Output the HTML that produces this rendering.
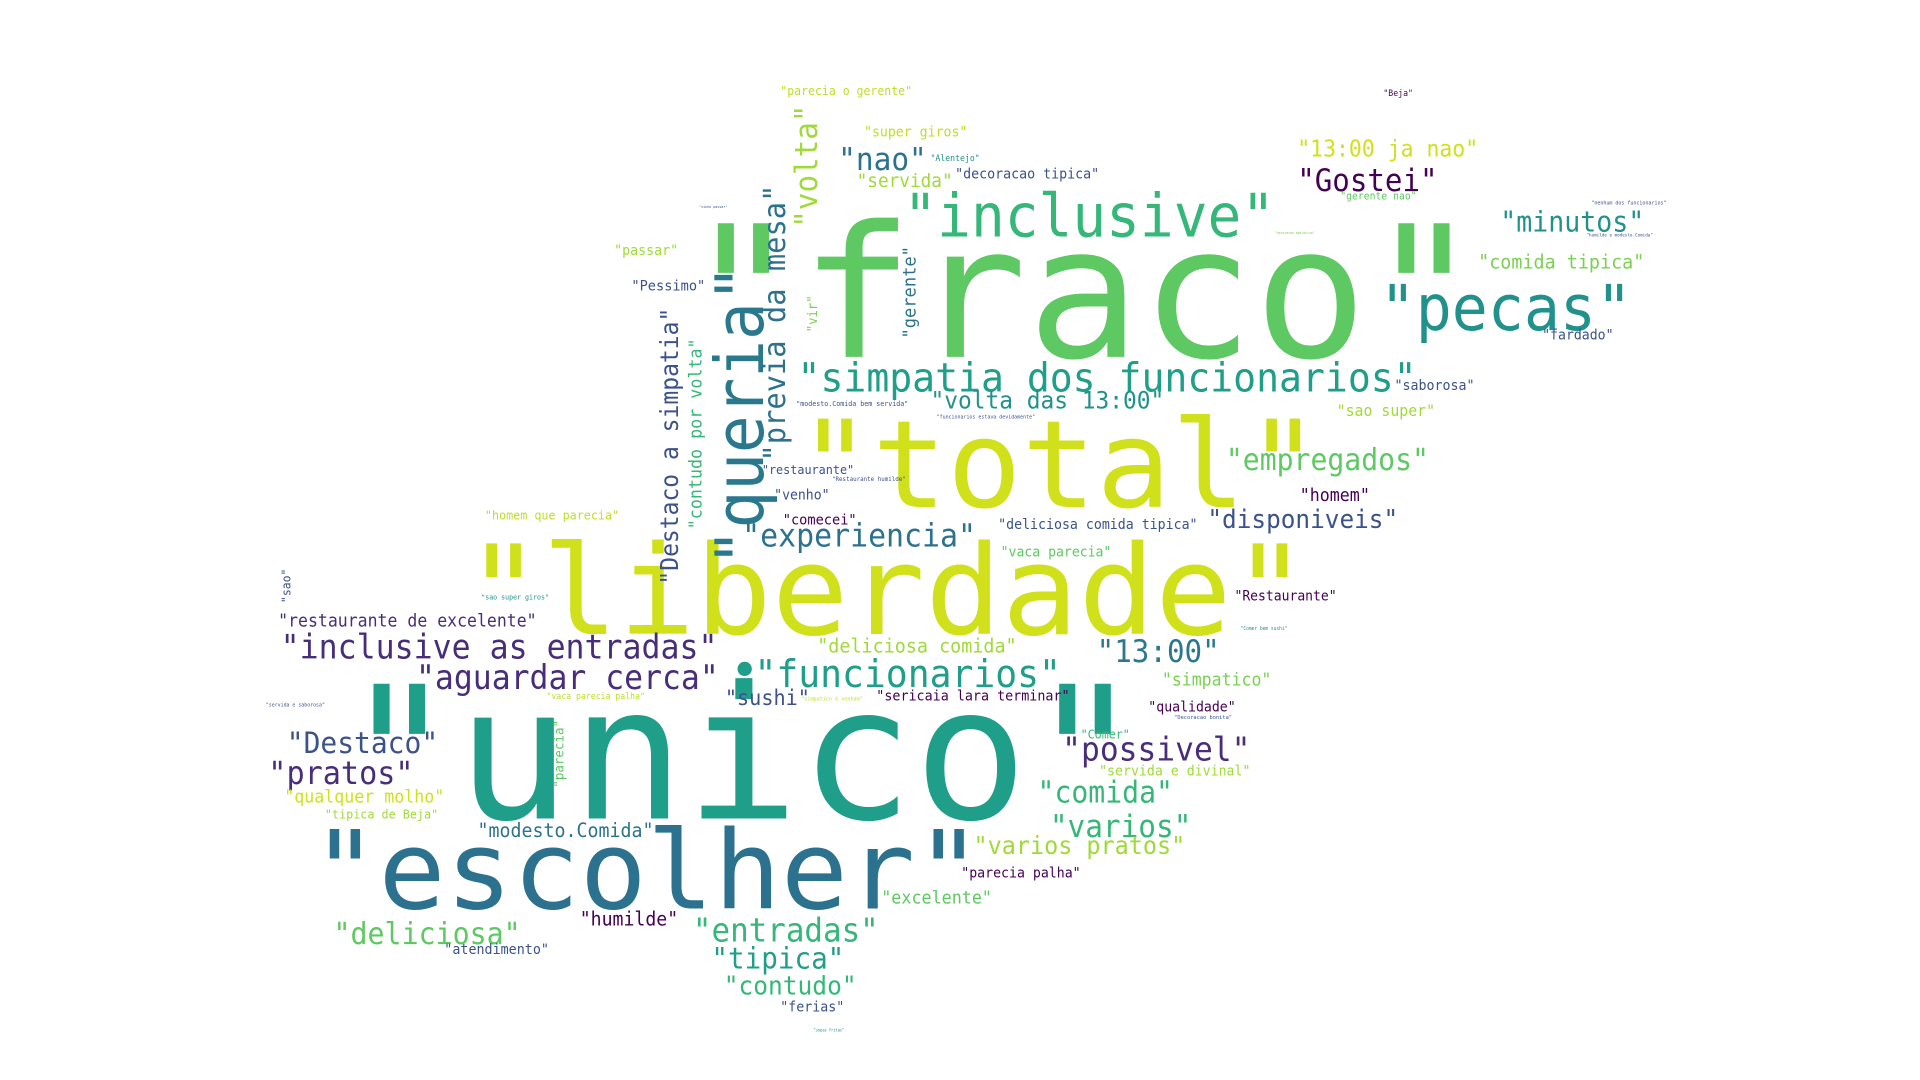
<!DOCTYPE html>
<html><head><meta charset="utf-8"><title>Word cloud</title>
<style>
html,body{margin:0;padding:0;background:#fff;}
svg{display:block;}
text{font-family:"DejaVu Sans Mono","Liberation Mono",monospace;}
</style></head>
<body>
<svg id="cloud" width="1920" height="1080" viewBox="0 0 1560 877.5" preserveAspectRatio="none" xmlns="http://www.w3.org/2000/svg">
<rect width="1560" height="877.5" fill="#fff"/>
</svg>
<script>
const words = ['"fraco"','"unico"','"liberdade"','"total"','"escolher"','"queria"','"inclusive"','"pecas"','"simpatia dos funcionarios"','"volta das 13:00"','"previa da mesa"','"volta"','"Destaco a simpatia"','"contudo por volta"','"vir"','"gerente"','"nao"','"servida"','"decoracao tipica"','"Alentejo"','"super giros"','"parecia o gerente"','"Beja"','"13:00 ja nao"','"Gostei"','"gerente nao"','"minutos"','"comida tipica"','"fardado"','"saborosa"','"sao super"','"empregados"','"homem"','"disponiveis"','"Restaurante"','"deliciosa comida tipica"','"vaca parecia"','"experiencia"','"comecei"','"venho"','"restaurante"','"homem que parecia"','"sao"','"restaurante de excelente"','"inclusive as entradas"','"aguardar cerca"','•','"funcionarios"','"deliciosa comida"','"13:00"','"simpatico"','"sushi"','"sericaia lara terminar"','"qualidade"','"Comer"','"servida e divinal"','"possivel"','"comida"','"varios"','"varios pratos"','"parecia palha"','"excelente"','"Destaco"','"pratos"','"qualquer molho"','"tipica de Beja"','"parecia"','"modesto.Comida"','"humilde"','"deliciosa"','"atendimento"','"entradas"','"tipica"','"contudo"','"ferias"','"passar"','"Pessimo"','"modesto.Comida bem servida"','"funcionarios estava devidamente"','"Restaurante humilde"','"sao super giros"','"vaca parecia palha"','"servida e saborosa"','"Comer bem sushi"','"humilde e modesto.Comida"','"nenhum dos funcionarios"','"vinho passar"','"decoracao apelativa"','"simpatico e venham"','"Decoracao bonita"','"sopas fritas"'];
const xs = [558,278,378,648,253,620,734,1121,648,756,638,664,551,570,664,744,681,696,776,756,702,634,1124,1054,1054,1089,1219,1201,1253,1133,1086,996,1056,981,1003,811,813,603,636,629,619,394,236,226,228,338,593,613,664,891,944,589,712,933,878,893,863,843,853,791,781,716,233,218,231,264,458,388,471,271,361,563,578,588,634,499,513,647,761,676,391,444,216,1008,1289,1293,568,1036,651,954,661];
const ys = [290,665,515,412,738,460,192,268,318,332,375,185,475,430,270,275,138,152,145,131,111,77,78,127,155,162,188,218,276,317,338,382,407,429,488,430,452,444,426,406,385,422,490,509,535,560,558,558,530,538,557,573,569,578,600,630,618,652,680,694,713,734,612,637,652,665,640,680,752,767,775,765,787,808,822,207,236,330,340,391,487,568,574,512,192,166,169,190,569,584,838];
const ws = [645,650,685,425,545,245,302,205,503,190,225,100,225,155,30,75,72,78,117,40,84,107,24,147,114,62,117,135,58,65,80,165,57,155,83,162,90,190,60,45,75,109,28,210,355,246,18,249,162,100,89,69,157,71,40,123,153,110,115,172,97,90,123,118,130,92,55,143,80,152,85,151,108,108,52,52,60,91,80,60,55,80,48,38,54,61,23,32,50,47,25];
const rots = [0,0,0,0,0,1,0,0,0,0,1,1,1,1,1,1,0,0,0,0,0,0,0,0,0,0,0,0,0,0,0,0,0,0,0,0,0,0,0,0,0,0,1,0,0,0,0,0,0,0,0,0,0,0,0,0,0,0,0,0,0,0,0,0,0,0,1,0,0,0,0,0,0,0,0,0,0,0,0,0,0,0,0,0,0,0,0,0,0,0,0];
const colors = ['#5ec962','#1f9e89','#d0e11c','#d0e11c','#2c728e','#2a788e','#35b779','#21918c','#1f9e89','#21918c','#2c728e','#a0da39','#3b528b','#35b779','#7ad151','#2c728e','#2c728e','#a0da39','#3b528b','#21918c','#bddf26','#bddf26','#440154','#d0e11c','#440154','#5ec962','#21918c','#7ad151','#3b528b','#3b528b','#a0da39','#5ec962','#440154','#3b528b','#440154','#3b528b','#5ec962','#2c728e','#440154','#3b528b','#3b528b','#bddf26','#3b528b','#472d7b','#472d7b','#472d7b','#1f9e89','#1f9e89','#a0da39','#2a788e','#7ad151','#3b528b','#440154','#440154','#35b779','#a0da39','#472d7b','#35b779','#35b779','#a0da39','#440154','#5ec962','#3b528b','#472d7b','#d0e11c','#a0da39','#5ec962','#2c728e','#440154','#5ec962','#3b528b','#35b779','#1f9e89','#35b779','#3b528b','#a0da39','#3b528b','#3b528b','#3b528b','#3b528b','#21918c','#bddf26','#3b528b','#21918c','#3b528b','#3b528b','#3b528b','#7ad151','#bddf26','#3b528b','#21918c'];

const svg = document.getElementById('cloud');
const NS = 'http://www.w3.org/2000/svg';
function fontSizeFor(w, n){
  const base = w / n / 0.6;
  return Math.max(3, base * (base > 60 ? 0.97 : 1.06));
}
for (let i = 0; i < words.length; i++) {
  const t = document.createElementNS(NS, 'text');
  const n = words[i].length;
  const fs = words[i] === '•' ? 40 : fontSizeFor(ws[i], n);
  t.setAttribute('x', 0);
  t.setAttribute('y', 0);
  t.setAttribute('font-size', fs.toFixed(1));
  t.setAttribute('fill', colors[i]);
  if (n > 1) {
    t.setAttribute('textLength', ws[i]);
    t.setAttribute('lengthAdjust', 'spacingAndGlyphs');
  }
  t.setAttribute('transform', 'translate(' + xs[i] + ',' + ys[i] + ')' + (rots[i] ? ' rotate(-90)' : ''));
  t.textContent = words[i];
  
  
  svg.appendChild(t);
}
</script>
</body></html>
